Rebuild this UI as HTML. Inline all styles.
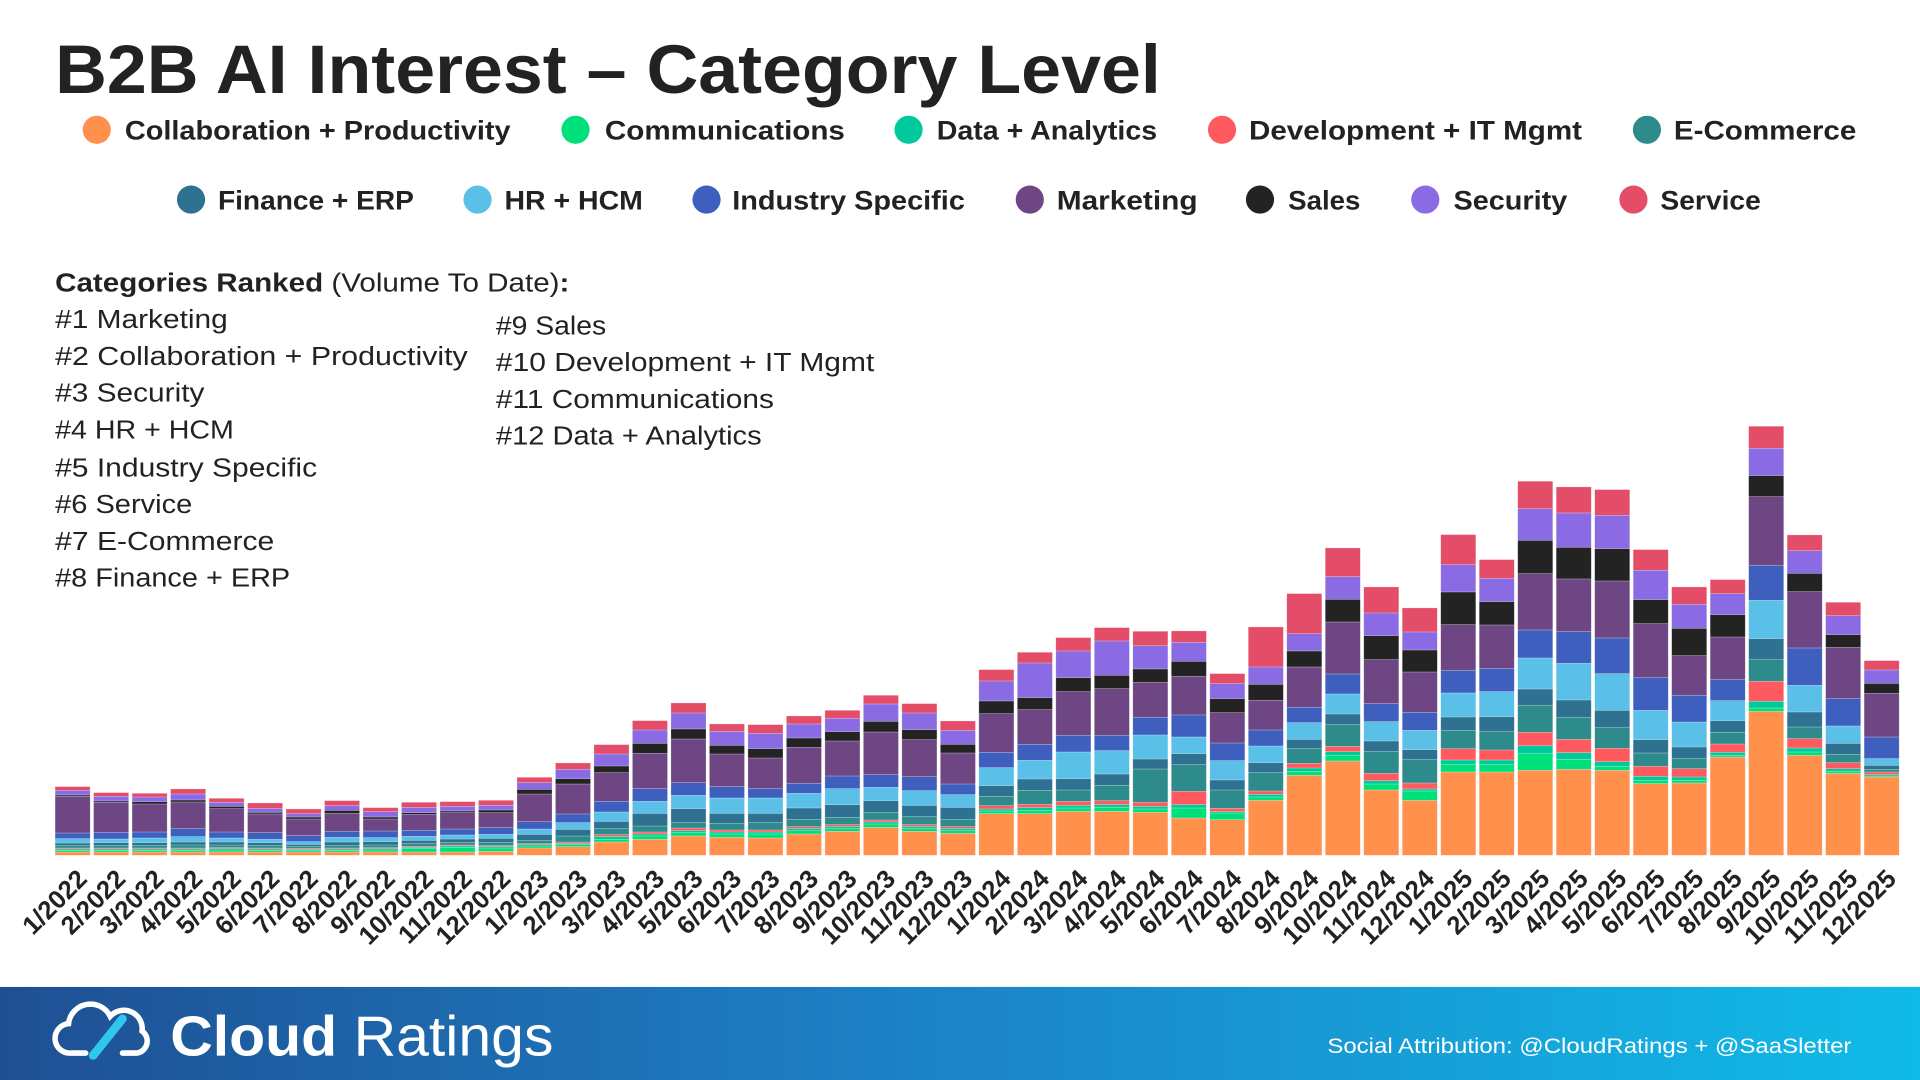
<!DOCTYPE html>
<html><head><meta charset="utf-8"><title>B2B AI Interest - Category Level</title>
<style>
html,body{margin:0;padding:0;background:#fff;}
svg{display:block;}
text{font-family:"Liberation Sans","DejaVu Sans",sans-serif;fill:#222;}
</style></head>
<body>
<svg id="chart" width="1920" height="1080" viewBox="0 0 1568 882" xmlns="http://www.w3.org/2000/svg">
  <rect x="0" y="0" width="1568" height="882" fill="#fff"/>
  <text x="45" y="76" font-size="56" font-weight="bold" textLength="903" lengthAdjust="spacingAndGlyphs">B2B AI Interest – Category Level</text>

  <g id="legend"></g>

  <g font-size="21">
    <text x="45" y="238" textLength="420" lengthAdjust="spacingAndGlyphs"><tspan font-weight="bold">Categories Ranked</tspan> (Volume To Date)<tspan font-weight="bold">:</tspan></text>
    <text x="45" y="268" textLength="141" lengthAdjust="spacingAndGlyphs">#1 Marketing</text>
    <text x="45" y="298" textLength="337" lengthAdjust="spacingAndGlyphs">#2 Collaboration + Productivity</text>
    <text x="45" y="328" textLength="122" lengthAdjust="spacingAndGlyphs">#3 Security</text>
    <text x="45" y="358" textLength="146" lengthAdjust="spacingAndGlyphs">#4 HR + HCM</text>
    <text x="45" y="389" textLength="214" lengthAdjust="spacingAndGlyphs">#5 Industry Specific</text>
    <text x="45" y="419" textLength="112" lengthAdjust="spacingAndGlyphs">#6 Service</text>
    <text x="45" y="449" textLength="179" lengthAdjust="spacingAndGlyphs">#7 E-Commerce</text>
    <text x="45" y="479" textLength="192" lengthAdjust="spacingAndGlyphs">#8 Finance + ERP</text>
    <text x="405" y="273" textLength="90" lengthAdjust="spacingAndGlyphs">#9 Sales</text>
    <text x="405" y="303" textLength="309" lengthAdjust="spacingAndGlyphs">#10 Development + IT Mgmt</text>
    <text x="405" y="333" textLength="227" lengthAdjust="spacingAndGlyphs">#11 Communications</text>
    <text x="405" y="363" textLength="217" lengthAdjust="spacingAndGlyphs">#12 Data + Analytics</text>
  </g>

  <g id="bars"></g>
  <g id="xlabels"></g>

  <defs>
    <linearGradient id="footgrad" x1="0" y1="0" x2="1" y2="0">
      <stop offset="0" stop-color="#1f4f93"/>
      <stop offset="0.45" stop-color="#1d7fc4"/>
      <stop offset="1" stop-color="#10bbe8"/>
    </linearGradient>
  </defs>
  <g>
    <rect x="0" y="806" width="1568" height="76" fill="url(#footgrad)"/>
    <g fill="none" stroke="#fff" stroke-width="4.5" stroke-linecap="round">
      <path d="M70 860 H58 a12 12 0 0 1 -2 -24 a18 18 0 0 1 34 -6 a15 15 0 0 1 26 12 a10 10 0 0 1 -4 18 H100"/>
      <path d="M76 862 L100 832" stroke="#2fc6f0" stroke-width="7"/>
    </g>
    <text x="139" y="862" font-size="46" style="fill:#fff" textLength="313" lengthAdjust="spacingAndGlyphs"><tspan font-weight="bold" style="fill:#fff">Cloud</tspan><tspan style="fill:#fff"> Ratings</tspan></text>
    <text x="1084" y="860" font-size="17.5" style="fill:#fff" textLength="428" lengthAdjust="spacingAndGlyphs">Social Attribution: @CloudRatings + @SaaSletter</text>
  </g>
</svg>
<script>
const categories = ["1/2022","2/2022","3/2022","4/2022","5/2022","6/2022","7/2022","8/2022","9/2022","10/2022","11/2022","12/2022","1/2023","2/2023","3/2023","4/2023","5/2023","6/2023","7/2023","8/2023","9/2023","10/2023","11/2023","12/2023","1/2024","2/2024","3/2024","4/2024","5/2024","6/2024","7/2024","8/2024","9/2024","10/2024","11/2024","12/2024","1/2025","2/2025","3/2025","4/2025","5/2025","6/2025","7/2025","8/2025","9/2025","10/2025","11/2025","12/2025"];
const seriesNames = ["Collaboration + Productivity","Communications","Data + Analytics","Development + IT Mgmt","E-Commerce","Finance + ERP","HR + HCM","Industry Specific","Marketing","Sales","Security","Service"];
const collab = [10,10,10,10,10,10,10,10,10,10,10,12,22,26,40,48,58,54,52,64,72,84,72,66,125,125,132,132,129,112,107,165,240,283,196,165,250,250,255,258,255,215,217,295,432,300,246,235];
const communications = [5,5,5,5,6,5,4,5,6,10,14,10,6,6,8,10,10,10,12,10,8,10,8,8,8,10,10,12,10,30,20,10,12,16,18,28,22,22,50,30,12,10,8,4,10,10,6,3];
const dataAnalytics = [4,4,4,4,4,4,4,4,4,4,4,4,4,4,8,6,6,6,6,6,6,6,6,6,6,8,8,8,8,10,4,8,10,12,10,6,14,14,24,20,14,12,10,10,20,12,8,4];
const devIt = [3,3,3,3,3,3,3,3,3,3,3,3,3,4,6,6,8,6,6,6,6,6,6,6,10,10,12,12,12,40,10,10,14,16,22,18,34,30,40,40,40,30,25,25,60,28,18,8];
const ecommerce = [7,8,8,9,8,8,6,8,8,8,8,10,10,18,18,18,16,20,22,22,22,22,24,22,28,42,34,46,100,80,55,55,44,65,65,70,55,55,80,66,62,40,30,35,65,35,25,8];
const financeErp = [8,8,8,9,9,8,6,10,10,10,10,12,18,20,22,38,42,30,28,34,38,36,34,36,32,34,34,34,30,33,30,30,28,32,32,30,40,45,50,52,52,40,35,35,63,45,33,12];
const hrHcm = [13,11,14,16,12,10,8,14,12,12,12,12,16,20,28,36,40,46,46,44,48,40,44,38,54,56,80,70,72,50,58,50,50,60,58,58,72,75,93,110,110,88,75,60,115,80,52,20];
const industry = [17,20,18,24,18,20,18,18,20,18,18,20,22,26,32,38,38,34,28,30,38,38,42,32,46,48,50,46,53,66,53,48,46,60,54,54,68,70,84,95,107,98,80,63,105,112,82,65];
const marketing = [110,90,84,80,70,56,50,54,36,48,49,45,83,90,86,106,131,98,92,108,105,128,111,93,116,104,131,140,105,116,91,89,121,156,132,121,137,130,169,158,171,162,119,128,206,169,154,131];
const sales = [4,4,7,6,7,5,6,9,6,5,5,8,14,16,20,30,30,26,28,28,28,32,30,26,38,36,42,40,40,45,42,48,48,68,72,66,98,70,100,95,97,72,82,67,63,55,38,30];
const security = [14,14,14,18,12,12,10,14,16,16,14,14,20,28,36,40,48,42,46,42,40,52,50,42,60,104,80,103,70,57,45,52,52,68,68,54,82,70,95,103,100,88,72,63,82,68,57,40];
const service = [11,11,11,15,12,16,14,15,12,15,14,15,16,19,28,28,30,22,26,24,24,26,28,28,34,32,40,40,43,34,30,120,120,86,78,72,90,56,82,78,77,62,52,42,66,47,40,28];

const allSeries = [collab,communications,dataAnalytics,devIt,ecommerce,financeErp,hrHcm,industry,marketing,sales,security,service];
const colors = ["#ff914d","#00e07a","#00c99b","#ff5a5f","#2e8b8c","#2e7191","#5ac0e8","#3f5fbf","#6e4683","#232323","#8a6be4","#e34d67"];
const keys = ["collab","communications","data-analytics","dev-it","ecommerce","finance-erp","hr-hcm","industry-specific","marketing","sales","security","service"];

const NS = "http://www.w3.org/2000/svg";
const baseY = 698.5, left = 45, right = 1551, n = categories.length;
const pitch = (right - left + 2.8) / n, bw = pitch - 2.8;
const xPos = i => left + i * pitch;
const yScale = v => v / 3.673;

const barsG = document.getElementById('bars');
for (let i = 0; i < n; i++) {
  const g = document.createElementNS(NS, 'g');
  
  
  let acc = 0;
  for (let s = 0; s < allSeries.length; s++) {
    const v = allSeries[s][i];
    const h = yScale(v);
    const r = document.createElementNS(NS, 'rect');
    
    
    r.setAttribute('x', xPos(i));
    r.setAttribute('y', baseY - yScale(acc + v));
    r.setAttribute('width', bw);
    r.setAttribute('height', h);
    r.setAttribute('fill', colors[s]);
    r.setAttribute('stroke', 'rgba(255,255,255,0.35)');
    r.setAttribute('stroke-width', '0.5');
    g.appendChild(r);
    acc += v;
  }
  barsG.appendChild(g);
}

const xl = document.getElementById('xlabels');
for (let i = 0; i < n; i++) {
  const t = document.createElementNS(NS, 'text');
  
  
  const cx = xPos(i) + bw / 2 + 13, cy = 719;
  t.setAttribute('x', cx);
  t.setAttribute('y', cy);
  t.setAttribute('text-anchor', 'end');
  t.setAttribute('font-size', '21');
  t.setAttribute('font-weight', '600');
  t.setAttribute('transform', 'rotate(-45 ' + cx + ' ' + cy + ')');
  t.textContent = categories[i];
  xl.appendChild(t);
}

// Legend
const legendPos = [
  [79,106,102,417],[470,106,494,690],[742,106,765,945],[998,106,1020,1292],[1345,106,1367,1516],
  [156,163,178,338],[390,163,412,525],[577,163,598,788],[841,163,863,978],[1029,163,1052,1111],[1164,163,1187,1280],[1334,163,1356,1438]
];
const lg = document.getElementById('legend');
for (let s = 0; s < seriesNames.length; s++) {
  const p = legendPos[s];
  const g = document.createElementNS(NS, 'g');
  
  
  const c = document.createElementNS(NS, 'circle');
  
  
  c.setAttribute('cx', p[0]); c.setAttribute('cy', p[1]); c.setAttribute('r', 11.5);
  c.setAttribute('fill', colors[s]);
  g.appendChild(c);
  const t = document.createElementNS(NS, 'text');
  
  
  t.setAttribute('x', p[2]); t.setAttribute('y', p[1] + 8);
  t.setAttribute('font-size', '22');
  t.setAttribute('font-weight', '600');
  t.setAttribute('textLength', p[3] - p[2]);
  t.setAttribute('lengthAdjust', 'spacingAndGlyphs');
  t.textContent = seriesNames[s];
  g.appendChild(t);
  lg.appendChild(g);
}
</script>
</body></html>
